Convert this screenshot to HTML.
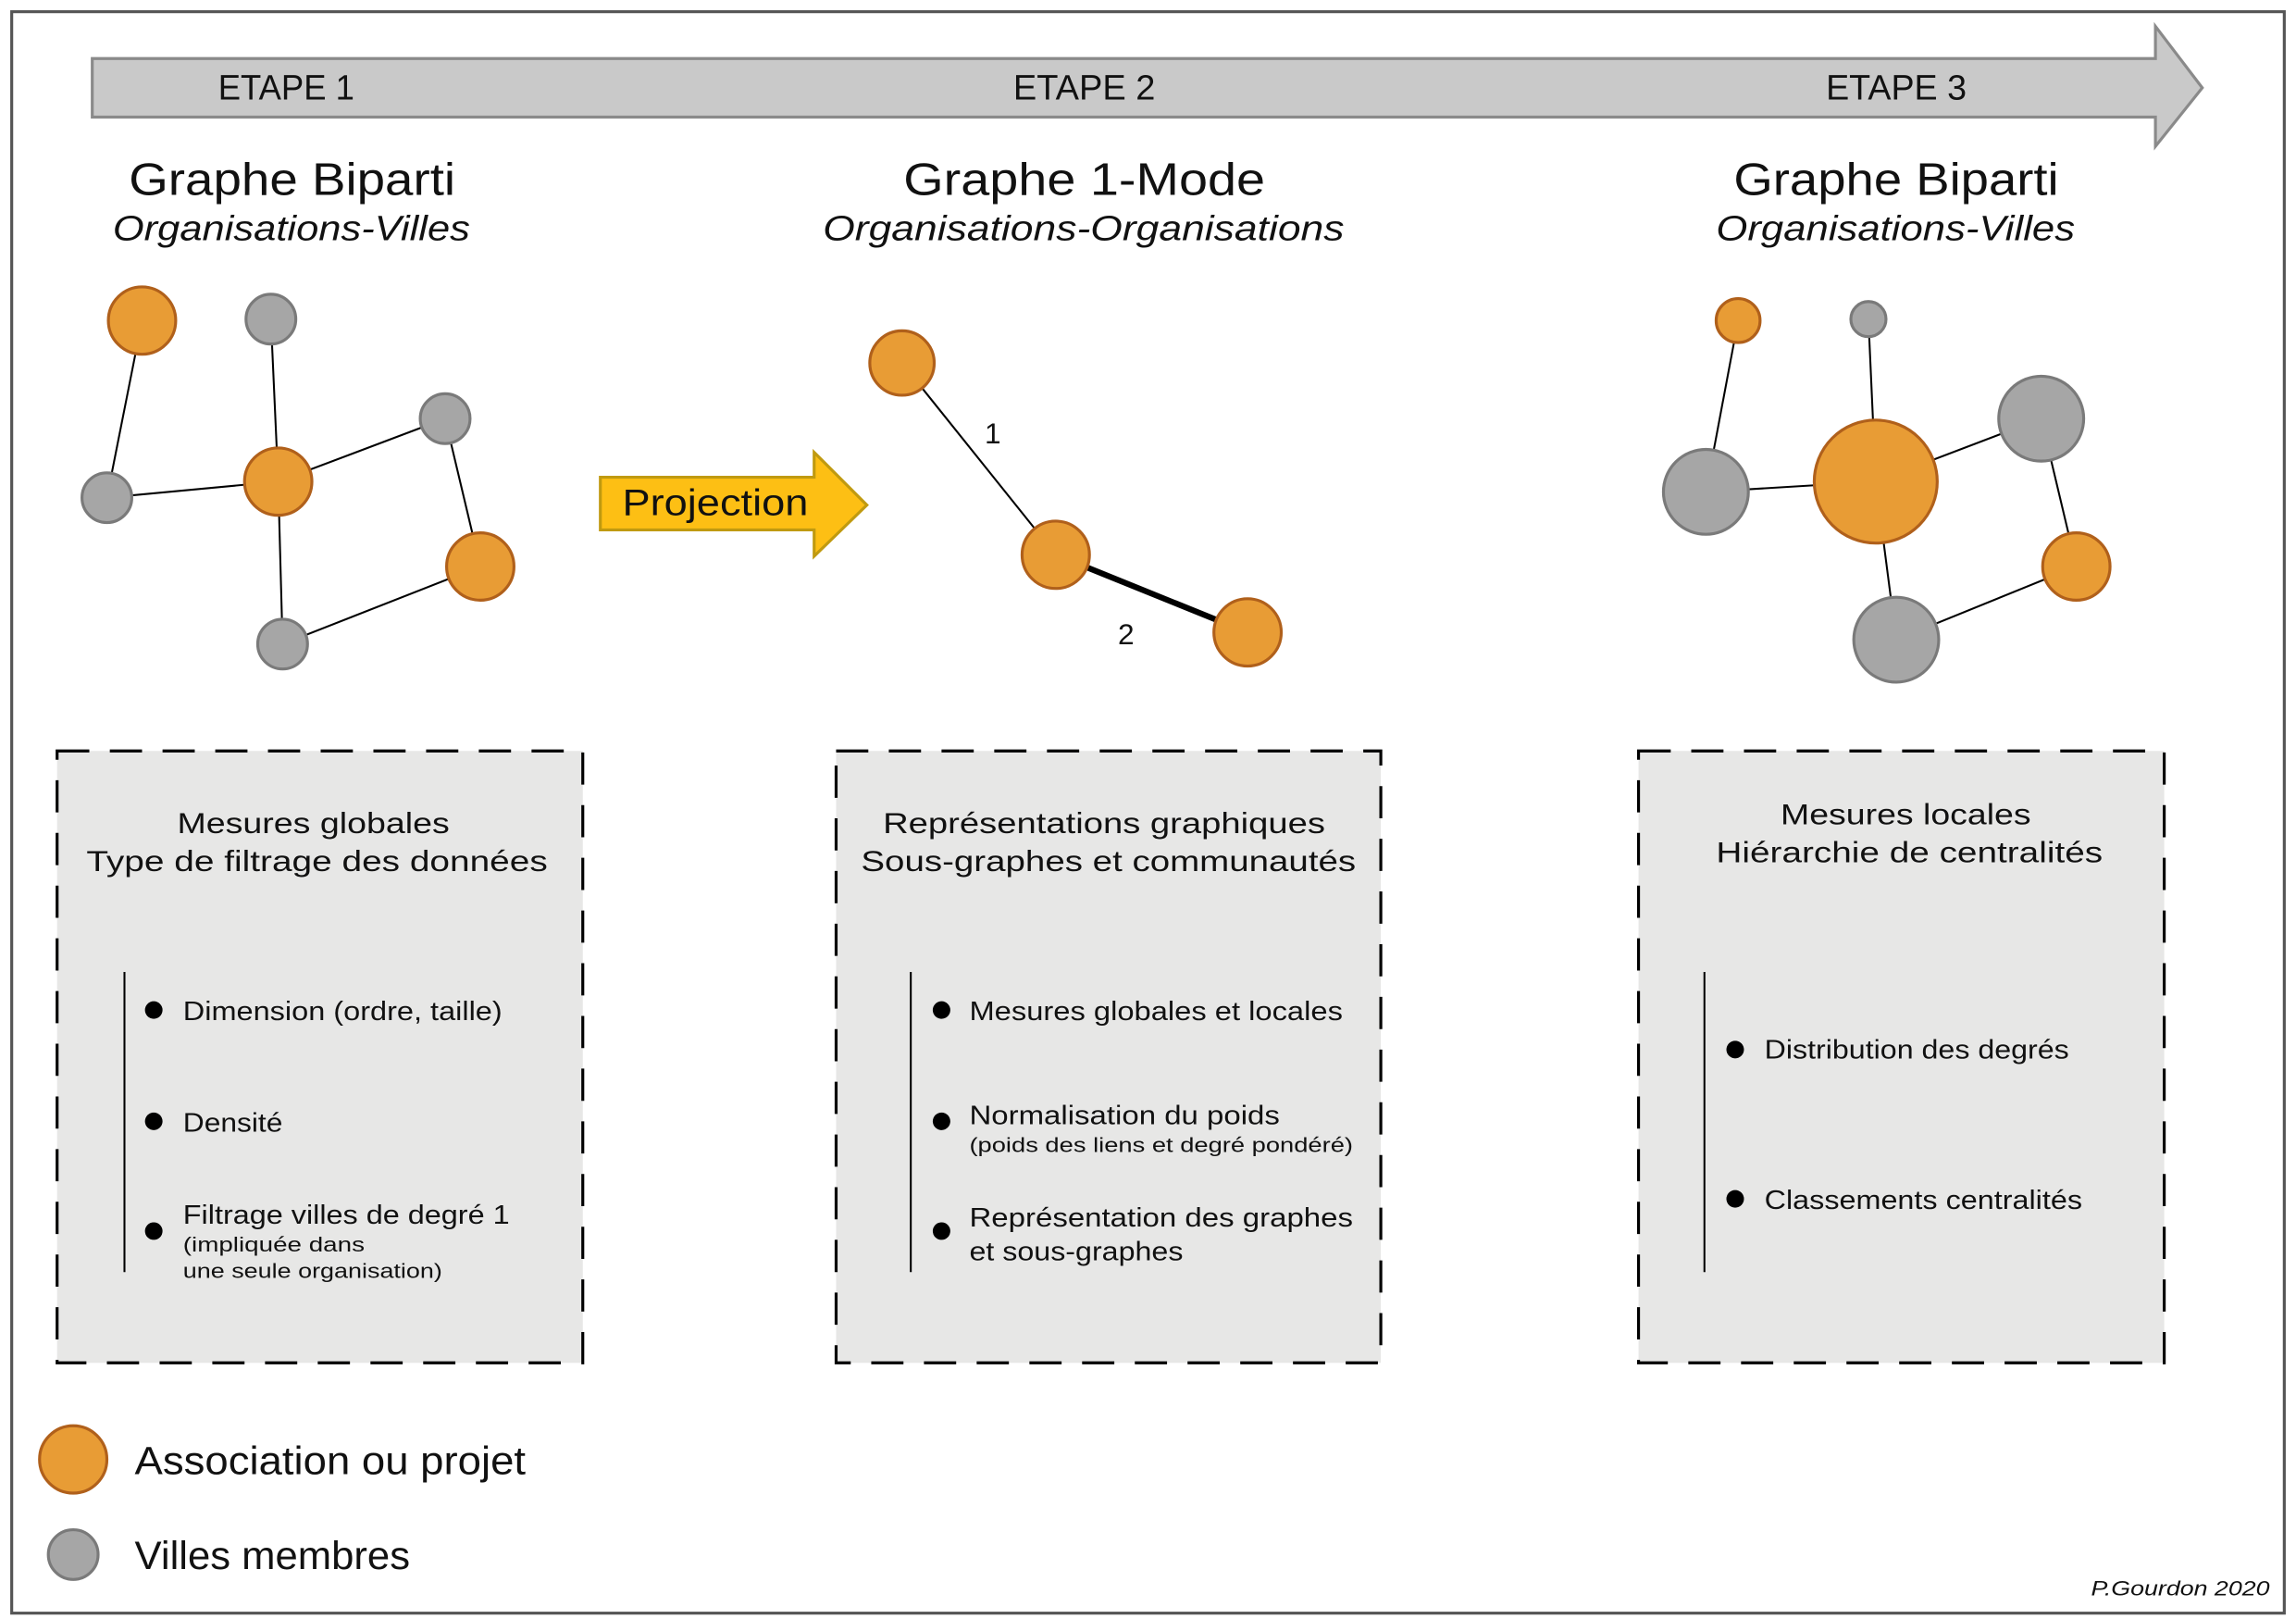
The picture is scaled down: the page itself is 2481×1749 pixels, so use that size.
<!DOCTYPE html>
<html><head><meta charset="utf-8"><style>
html,body{margin:0;padding:0;background:#fff}
svg{display:block}
text{font-family:"Liberation Sans",sans-serif;fill:#111}
</style></head><body>
<svg width="2481" height="1749" viewBox="0 0 1568 1106" preserveAspectRatio="none" xmlns="http://www.w3.org/2000/svg">
<rect x="0" y="0" width="1568" height="1106" fill="#fff"/>
<rect x="8" y="8" width="1552" height="1094" fill="none" stroke="#555" stroke-width="2"/>
<polygon points="63,40 1472,40 1472,18 1504,60 1472,100 1472,80 63,80" fill="#c9c9c9" stroke="#8a8a8a" stroke-width="2"/>
<g lengthAdjust="spacingAndGlyphs">
<text x="149" y="68" font-size="24" textLength="93" lengthAdjust="spacingAndGlyphs">ETAPE 1</text>
<text x="692" y="68" font-size="24" textLength="97" lengthAdjust="spacingAndGlyphs">ETAPE 2</text>
<text x="1247" y="68" font-size="24" textLength="96" lengthAdjust="spacingAndGlyphs">ETAPE 3</text>
<text x="88" y="133" font-size="31" textLength="223" lengthAdjust="spacingAndGlyphs">Graphe Biparti</text>
<text x="77" y="164" font-size="24" font-style="italic" textLength="244" lengthAdjust="spacingAndGlyphs">Organisations-Villes</text>
<text x="617" y="133" font-size="31" textLength="247" lengthAdjust="spacingAndGlyphs">Graphe 1-Mode</text>
<text x="562" y="164" font-size="24" font-style="italic" textLength="356" lengthAdjust="spacingAndGlyphs">Organisations-Organisations</text>
<text x="1184" y="133" font-size="31" textLength="222" lengthAdjust="spacingAndGlyphs">Graphe Biparti</text>
<text x="1172" y="164" font-size="24" font-style="italic" textLength="245" lengthAdjust="spacingAndGlyphs">Organisations-Villes</text>
</g>
<g stroke="#000" stroke-width="1.3">
<line x1="97" y1="219" x2="73" y2="340"/><line x1="185" y1="218" x2="190" y2="329"/>
<line x1="73" y1="340" x2="190" y2="329"/><line x1="190" y1="329" x2="304" y2="286"/>
<line x1="190" y1="329" x2="193" y2="440"/><line x1="304" y1="286" x2="328" y2="387"/>
<line x1="193" y1="440" x2="328" y2="387"/>
</g>
<g stroke-width="2">
<circle cx="97" cy="219" r="23" fill="#e89c35" stroke="#b0601b"/>
<circle cx="185" cy="218" r="17" fill="#a6a6a6" stroke="#7a7a7a"/>
<circle cx="190" cy="329" r="23" fill="#e89c35" stroke="#b0601b"/>
<circle cx="304" cy="286" r="17" fill="#a6a6a6" stroke="#7a7a7a"/>
<circle cx="73" cy="340" r="17" fill="#a6a6a6" stroke="#7a7a7a"/>
<circle cx="328" cy="387" r="23" fill="#e89c35" stroke="#b0601b"/>
<circle cx="193" cy="440" r="17" fill="#a6a6a6" stroke="#7a7a7a"/>
</g>
<polygon points="410,326 556,326 556,309 592,345 556,380 556,362 410,362" fill="#fdbf14" stroke="#c09a10" stroke-width="2"/>
<text x="425" y="352" font-size="25" textLength="127" lengthAdjust="spacingAndGlyphs">Projection</text>
<line x1="616" y1="248" x2="721" y2="379" stroke="#000" stroke-width="1.3"/>
<line x1="721" y1="379" x2="852" y2="432" stroke="#000" stroke-width="4"/>
<text x="678" y="303" font-size="20" text-anchor="middle">1</text>
<text x="769" y="440" font-size="20" text-anchor="middle">2</text>
<g stroke-width="2" fill="#e89c35" stroke="#b0601b">
<circle cx="616" cy="248" r="22"/><circle cx="721" cy="379" r="23"/><circle cx="852" cy="432" r="23"/>
</g>
<g stroke="#000" stroke-width="1.3">
<line x1="1187" y1="219" x2="1165" y2="336"/><line x1="1276" y1="218" x2="1281" y2="329"/>
<line x1="1165" y1="336" x2="1281" y2="329"/><line x1="1281" y1="329" x2="1394" y2="286"/>
<line x1="1281" y1="329" x2="1295" y2="437"/><line x1="1394" y1="286" x2="1418" y2="387"/>
<line x1="1295" y1="437" x2="1418" y2="387"/>
</g>
<g stroke-width="2">
<circle cx="1187" cy="219" r="15" fill="#e89c35" stroke="#b0601b"/>
<circle cx="1276" cy="218" r="12" fill="#a6a6a6" stroke="#7a7a7a"/>
<circle cx="1281" cy="329" r="42" fill="#e89c35" stroke="#b0601b"/>
<circle cx="1394" cy="286" r="29" fill="#a6a6a6" stroke="#7a7a7a"/>
<circle cx="1165" cy="336" r="29" fill="#a6a6a6" stroke="#7a7a7a"/>
<circle cx="1418" cy="387" r="23" fill="#e89c35" stroke="#b0601b"/>
<circle cx="1295" cy="437" r="29" fill="#a6a6a6" stroke="#7a7a7a"/>
</g>
<g fill="#e7e7e6" stroke="#000" stroke-width="2" stroke-dasharray="22,14">
<rect x="39" y="513" width="359" height="418"/>
<rect x="571" y="513" width="372" height="418"/>
<rect x="1119" y="513" width="359" height="418"/>
</g>
<g stroke="#000" stroke-width="1.3">
<line x1="85" y1="664" x2="85" y2="869"/><line x1="622" y1="664" x2="622" y2="869"/><line x1="1164" y1="664" x2="1164" y2="869"/>
</g>
<text x="121" y="569" font-size="20" textLength="186" lengthAdjust="spacingAndGlyphs">Mesures globales</text>
<text x="59" y="595" font-size="20" textLength="315" lengthAdjust="spacingAndGlyphs">Type de filtrage des données</text>
<circle cx="105" cy="690" r="6" fill="#000"/><text x="125" y="697" font-size="18" textLength="218" lengthAdjust="spacingAndGlyphs">Dimension (ordre, taille)</text>
<circle cx="105" cy="766" r="6" fill="#000"/><text x="125" y="773" font-size="18" textLength="68" lengthAdjust="spacingAndGlyphs">Densité</text>
<circle cx="105" cy="841" r="6" fill="#000"/><text x="125" y="836" font-size="18" textLength="223" lengthAdjust="spacingAndGlyphs">Filtrage villes de degré 1</text>
<text x="125" y="855" font-size="14" textLength="124" lengthAdjust="spacingAndGlyphs">(impliquée dans</text>
<text x="125" y="873" font-size="14" textLength="177" lengthAdjust="spacingAndGlyphs">une seule organisation)</text>
<text x="603" y="569" font-size="20" textLength="302" lengthAdjust="spacingAndGlyphs">Représentations graphiques</text>
<text x="588" y="595" font-size="20" textLength="338" lengthAdjust="spacingAndGlyphs">Sous-graphes et communautés</text>
<circle cx="643" cy="690" r="6" fill="#000"/><text x="662" y="697" font-size="18" textLength="255" lengthAdjust="spacingAndGlyphs">Mesures globales et locales</text>
<circle cx="643" cy="766" r="6" fill="#000"/><text x="662" y="768" font-size="18" textLength="212" lengthAdjust="spacingAndGlyphs">Normalisation du poids</text>
<text x="662" y="787" font-size="14" textLength="262" lengthAdjust="spacingAndGlyphs">(poids des liens et degré pondéré)</text>
<circle cx="643" cy="841" r="6" fill="#000"/><text x="662" y="838" font-size="18" textLength="262" lengthAdjust="spacingAndGlyphs">Représentation des graphes</text>
<text x="662" y="861" font-size="18" textLength="146" lengthAdjust="spacingAndGlyphs">et sous-graphes</text>
<text x="1216" y="563" font-size="20" textLength="171" lengthAdjust="spacingAndGlyphs">Mesures locales</text>
<text x="1172" y="589" font-size="20" textLength="264" lengthAdjust="spacingAndGlyphs">Hiérarchie de centralités</text>
<circle cx="1185" cy="717" r="6" fill="#000"/><text x="1205" y="723" font-size="18" textLength="208" lengthAdjust="spacingAndGlyphs">Distribution des degrés</text>
<circle cx="1185" cy="819" r="6" fill="#000"/><text x="1205" y="826" font-size="18" textLength="217" lengthAdjust="spacingAndGlyphs">Classements centralités</text>
<circle cx="50" cy="997" r="23" fill="#e89c35" stroke="#b0601b" stroke-width="2"/>
<text x="92" y="1007" font-size="27" textLength="267" lengthAdjust="spacingAndGlyphs">Association ou projet</text>
<circle cx="50" cy="1062" r="17" fill="#a6a6a6" stroke="#7a7a7a" stroke-width="2"/>
<text x="92" y="1072" font-size="27" textLength="188" lengthAdjust="spacingAndGlyphs">Villes membres</text>
<text x="1428" y="1090" font-size="14" font-style="italic" textLength="122" lengthAdjust="spacingAndGlyphs">P.Gourdon 2020</text>
</svg>
</body></html>
